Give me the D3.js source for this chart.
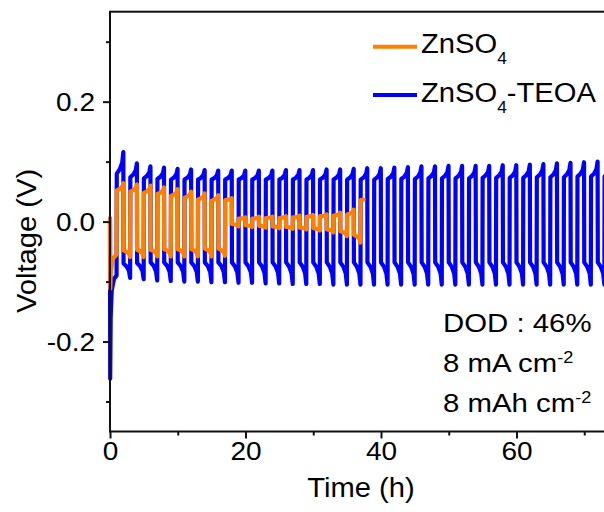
<!DOCTYPE html>
<html>
<head>
<meta charset="utf-8">
<script src="https://cdn.jsdelivr.net/npm/d3@7"></script>
<style>
    html, body { margin: 0; padding: 0; background: #fff; }
    svg { display: block; font-family: "Liberation Sans", Arial, sans-serif; }
</style>
</head>
<body>
<div id="chart"></div>
<script>
// Axis ticks
const xMajor = [0, 20, 40, 60];
const xMinor = [10, 30, 50, 70];
const yMajor = [-0.2, 0, 0.2];
const yMinor = [-0.3, -0.1, 0.1, 0.3];

// Galvanostatic cycling: each cycle = 1 h plating (negative) + 1 h stripping (positive)
const cycleHours = 2;
// shape of one half-cycle plateau: [fraction of the hour, fraction of start->end change]
const halfShape = [[0, 0], [0.45, 0.2], [0.8, 0.5], [0.97, 1]];

// ZnSO4-TEOA (blue), one value per cycle
const blueHead = [[0, 0.004], [0.03, -0.262], [0.1, -0.16], [0.25, -0.115], [0.6, -0.095], [0.97, -0.09]];
const blueLowStart = [-0.09, -0.07, -0.069, -0.068, -0.068, -0.068, -0.068, -0.068, -0.068, -0.068,
    -0.068, -0.068, -0.068, -0.068, -0.068, -0.068, -0.068, -0.068, -0.068, -0.068,
    -0.068, -0.068, -0.068, -0.068, -0.068, -0.068, -0.068, -0.068, -0.068, -0.068,
    -0.068, -0.068, -0.068, -0.068, -0.068, -0.068, -0.068];
const blueLowEnd = [-0.09, -0.094, -0.096, -0.098, -0.099, -0.1, -0.1, -0.101, -0.101, -0.102,
    -0.102, -0.103, -0.103, -0.104, -0.104, -0.104, -0.105, -0.105, -0.105, -0.105,
    -0.105, -0.105, -0.105, -0.105, -0.105, -0.105, -0.105, -0.105, -0.105, -0.105,
    -0.105, -0.105, -0.105, -0.105, -0.105, -0.105, -0.105];
const blueHighStart = [0.08, 0.074, 0.072, 0.071, 0.07, 0.07, 0.07, 0.07, 0.07, 0.07,
    0.07, 0.07, 0.07, 0.07, 0.07, 0.07, 0.07, 0.07, 0.07, 0.07,
    0.071, 0.071, 0.071, 0.072, 0.072, 0.072, 0.072, 0.073, 0.073, 0.073,
    0.073, 0.074, 0.074, 0.074, 0.075, 0.075, 0.075];
const blueHighEnd = [0.116, 0.097, 0.092, 0.09, 0.088, 0.087, 0.086, 0.085, 0.085, 0.085,
    0.085, 0.085, 0.086, 0.086, 0.086, 0.087, 0.087, 0.088, 0.089, 0.089,
    0.09, 0.091, 0.092, 0.092, 0.093, 0.093, 0.093, 0.093, 0.094, 0.094,
    0.095, 0.096, 0.097, 0.098, 0.099, 0.1, 0.1];

// ZnSO4 (orange), ends at ~37.5 h
const orangeEnd = 37.5;
const orangeHead = [[0, 0.006], [0.04, -0.112], [0.12, -0.085], [0.4, -0.062], [0.97, -0.055]];
const orangeLowStart = [-0.055, -0.048, -0.047, -0.047, -0.046, -0.046, -0.046, -0.045, -0.045, -0.004,
    -0.006, -0.007, -0.008, -0.009, -0.01, -0.011, -0.013, -0.016, -0.022];
const orangeLowEnd = [-0.055, -0.059, -0.059, -0.058, -0.058, -0.058, -0.058, -0.058, -0.057, -0.008,
    -0.009, -0.01, -0.011, -0.012, -0.013, -0.015, -0.018, -0.024, -0.035];
const orangeHighStart = [0.052, 0.05, 0.048, 0.046, 0.043, 0.04, 0.037, 0.035, 0.036, 0.005,
    0.005, 0.006, 0.006, 0.007, 0.008, 0.009, 0.01, 0.012, 0.036];
const orangeHighEnd = [0.064, 0.062, 0.06, 0.057, 0.054, 0.05, 0.047, 0.044, 0.039, 0.007,
    0.008, 0.008, 0.009, 0.01, 0.011, 0.012, 0.015, 0.02, 0.04];

// Legend and notes
const seriesNames = [["ZnSO", "4", ""], ["ZnSO", "4", "-TEOA"]];
const seriesColors = ["#FF7F00", "#0000FF"];
const notes = [["DOD : 46%", ""], ["8 mA cm", "-2"], ["8 mAh cm", "-2"]];

function buildSeries(head, lowStart, lowEnd, highStart, highEnd, endTime) {
    const pts = [];
    for (let k = 0; k < lowStart.length; k++) {
        const t0 = k * cycleHours;
        if (k === 0) {
            head.forEach(p => pts.push(p));
        } else {
            halfShape.forEach(([f, w]) => pts.push([t0 + f, lowStart[k] + w * (lowEnd[k] - lowStart[k])]));
        }
        halfShape.forEach(([f, w]) => pts.push([t0 + 1 + f, highStart[k] + w * (highEnd[k] - highStart[k])]));
    }
    return pts.filter(p => p[0] <= endTime);
}

const blueData = buildSeries(blueHead, blueLowStart, blueLowEnd, blueHighStart, blueHighEnd, 80);
const orangeData = buildSeries(orangeHead, orangeLowStart, orangeLowEnd, orangeHighStart, orangeHighEnd, orangeEnd);

const W = 604, H = 512;
const svg = d3.select("#chart").append("svg")
    .attr("width", W)
    .attr("height", H);

const x = d3.scaleLinear().domain([0, 80]).range([110, 652]);
const y = d3.scaleLinear().domain([-0.35, 0.35]).range([431.5, 11.7]);

// text with the slightly wide look of the original font
function addText(parent, tx, ty, size, sx, parts, angle = 0, anchor = "start") {
    const t = parent.append("text")
        .attr("transform", `translate(${tx},${ty}) rotate(${angle}) scale(${sx},1)`)
        .attr("text-anchor", anchor)
        .style("font-size", size + "px")
        .attr("fill", "#000");
    parts.forEach(p => {
        t.append("tspan")
            .attr("dy", p.dy || 0)
            .style("font-size", (p.size || size) + "px")
            .text(p.text);
    });
    return t;
}

// lines
const line = d3.line()
    .x(d => x(d[0]))
    .y(d => y(d[1]));

svg.append("path")
    .datum(blueData)
    .attr("d", line)
    .attr("fill", "none")
    .attr("stroke", seriesColors[1])
    .attr("stroke-width", 4.2)
    .attr("stroke-linejoin", "round")
    .attr("stroke-linecap", "round");

svg.append("path")
    .datum(orangeData)
    .attr("d", line)
    .attr("fill", "none")
    .attr("stroke", seriesColors[0])
    .attr("stroke-width", 4.2)
    .attr("stroke-linejoin", "round")
    .attr("stroke-linecap", "round");

// frame
svg.append("rect")
    .attr("x", x(0))
    .attr("y", y(0.35))
    .attr("width", x(80) - x(0))
    .attr("height", y(-0.35) - y(0.35))
    .attr("fill", "none")
    .attr("stroke", "#111")
    .attr("stroke-width", 2);

// axes
const yAxis = svg.append("g")
    .attr("transform", `translate(${x(0)},0)`)
    .call(d3.axisLeft(y).tickValues(yMajor).tickSize(7).tickFormat(d => d.toFixed(1)));
const yAxisMinor = svg.append("g")
    .attr("transform", `translate(${x(0)},0)`)
    .call(d3.axisLeft(y).tickValues(yMinor).tickSize(4).tickFormat(""));

const xAxis = svg.append("g")
    .attr("transform", `translate(0,${y(-0.35)})`)
    .call(d3.axisBottom(x).tickValues(xMajor).tickSize(7).tickFormat(d => d));
const xAxisMinor = svg.append("g")
    .attr("transform", `translate(0,${y(-0.35)})`)
    .call(d3.axisBottom(x).tickValues(xMinor).tickSize(4).tickFormat(""));

[yAxis, yAxisMinor, xAxis, xAxisMinor].forEach(a => {
    a.select(".domain").remove();
    a.selectAll("line").attr("stroke", "#111").attr("stroke-width", 2);
});

yAxis.selectAll("text")
    .attr("x", -15 / 1.12)
    .attr("dy", "0.36em")
    .attr("transform", "scale(1.12,1)")
    .style("font-size", "25px")
    .attr("fill", "#000")
    .attr("font-family", null);

xAxis.selectAll("text")
    .attr("y", 28.5)
    .attr("dy", 0)
    .attr("transform", "scale(1.12,1)")
    .style("font-size", "25px")
    .attr("fill", "#000")
    .attr("font-family", null);

// axis titles
addText(svg, 361, 497, 27, 1.08, [{ text: "Time (h)" }], 0, "middle");
addText(svg, 36, 241, 27, 1.08, [{ text: "Voltage (V)" }], -90, "middle");

// legend
const legendY = [46.7, 95];
seriesNames.forEach((name, i) => {
    svg.append("line")
        .attr("x1", 373).attr("x2", 417)
        .attr("y1", legendY[i]).attr("y2", legendY[i])
        .attr("stroke", seriesColors[i])
        .attr("stroke-width", 4);
    addText(svg, 421, legendY[i] + 6.5, 27, 1.08, [
        { text: name[0] },
        { text: name[1], size: 16, dy: 11 },
        { text: name[2], dy: -11 }
    ]);
});

// notes
notes.forEach((n, i) => {
    addText(svg, 443, 331.7 + i * 40, 26, 1.13, [
        { text: n[0] },
        { text: n[1], size: 16, dy: -9 }
    ]);
});
</script>
</body>
</html>
